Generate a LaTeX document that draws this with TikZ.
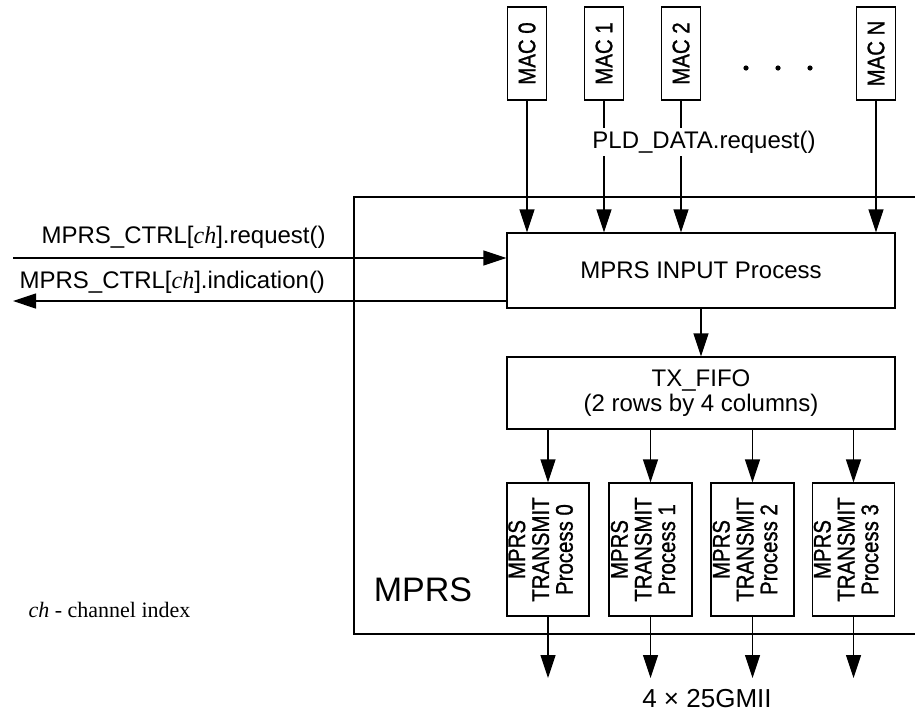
\documentclass[tikz,border=0pt]{standalone}
\usepackage{fontspec}
\usepackage{graphicx}
\setmainfont{Liberation Serif}
\setsansfont{Liberation Sans}
\newfontfamily\vfont{Liberation Sans}[FakeBold=1.2]
\usetikzlibrary{arrows.meta}

% upright-rotated, slightly condensed box labels
\newcommand{\vlabel}[1]{\rotatebox{90}{\scalebox{0.85}[1]{\vfont #1}}}
\newcommand{\vstack}[3]{\vlabel{\begin{tabular}{@{}c@{}}#1\\#2\\#3\end{tabular}}\hspace*{8pt}}

\begin{document}
\begin{tikzpicture}[x=1pt,y=-1pt,line width=1.2pt,
  box/.style={draw,line width=1.2pt,inner sep=0pt,
    font=\sffamily\fontsize{24}{23.5}\selectfont},
  arr/.style={-{Triangle[length=23pt,width=15pt]}},
  lbl/.style={inner sep=0pt,font=\sffamily\fontsize{24}{26}\selectfont}]
\useasboundingbox (0,0) rectangle (915,713);

% MPRS sublayer outline (open towards the right edge)
\draw (915,197) -- (354,197) -- (354,634) -- (915,634);

% MAC clients
\node[box,minimum width=39pt,minimum height=93pt] (mac0) at (527,53.5) {\vlabel{MAC 0}};
\node[box,minimum width=39pt,minimum height=93pt] (mac1) at (604,53.5) {\vlabel{MAC 1}};
\node[box,minimum width=39pt,minimum height=93pt] (mac2) at (681,53.5) {\vlabel{MAC 2}};
\node[box,minimum width=39pt,minimum height=93pt] (macn) at (876,53.5) {\vlabel{MAC N}};
\fill (746,68) circle (2.6) (778,68) circle (2.6) (810,68) circle (2.6);

% processing blocks
\node[box,minimum width=388pt,minimum height=75pt] (in) at (701,270.5) {MPRS INPUT Process};
\node[box,minimum width=388pt,minimum height=72pt,align=center,
  font=\sffamily\fontsize{24}{25.5}\selectfont] (fifo) at (701,393) {TX\_FIFO\\(2 rows by 4 columns)};
\node[box,minimum width=82pt,minimum height=133pt] (tx0) at (548,549.5) {\vstack{MPRS}{TRANSMIT}{Process 0}};
\node[box,minimum width=83pt,minimum height=133pt] (tx1) at (650.5,549.5) {\vstack{MPRS}{TRANSMIT}{Process 1}};
\node[box,minimum width=83pt,minimum height=133pt] (tx2) at (752.5,549.5) {\vstack{MPRS}{TRANSMIT}{Process 2}};
\node[box,minimum width=82pt,minimum height=133pt] (tx3) at (853.5,549.5) {\vstack{MPRS}{TRANSMIT}{Process 3}};

% MAC data paths
\foreach \m in {mac0,mac1,mac2,macn}
  \draw[arr] (\m.south) -- (\m.south |- in.north);
\node[lbl,fill=white,inner ysep=3pt,anchor=base] (pld) at (704,148.5) {PLD\_DATA.request()};

% control primitives
\coordinate (reqL) at (13,258);
\coordinate (indL) at (13,301);
\draw[arr] (reqL) -- (reqL -| in.west);
\draw[arr] (indL -| in.west) -- (indL);
\node[lbl,anchor=base west] (reqtxt) at (41,243) {MPRS\_CTRL[{\rmfamily\itshape ch}].request()};
\node[lbl,anchor=base west] (indtxt) at (19,288) {MPRS\_CTRL[{\rmfamily\itshape ch}].indication()};

% internal flow
\draw[arr] (in) -- (fifo);
\foreach \t in {tx0,tx1,tx2,tx3}
  \draw[arr] (\t.north |- fifo.south) -- (\t.north);
\coordinate (outrow) at (0,678);
\foreach \t in {tx0,tx1,tx2,tx3}
  \draw[arr] (\t.south) -- (\t.south |- outrow);

% labels
\node[inner sep=0pt,anchor=base,font=\sffamily\fontsize{34}{36}\selectfont] (mprs) at (423,601) {MPRS};
\node[inner sep=0pt,anchor=base,font=\sffamily\fontsize{26}{28}\selectfont] (gmii) at (707,707) {4 × 25GMII};
\node[inner sep=0pt,anchor=base west,font=\rmfamily\fontsize{22}{24}\selectfont] (legend) at (28,617) {\textit{ch} - channel index};
\end{tikzpicture}
\end{document}
